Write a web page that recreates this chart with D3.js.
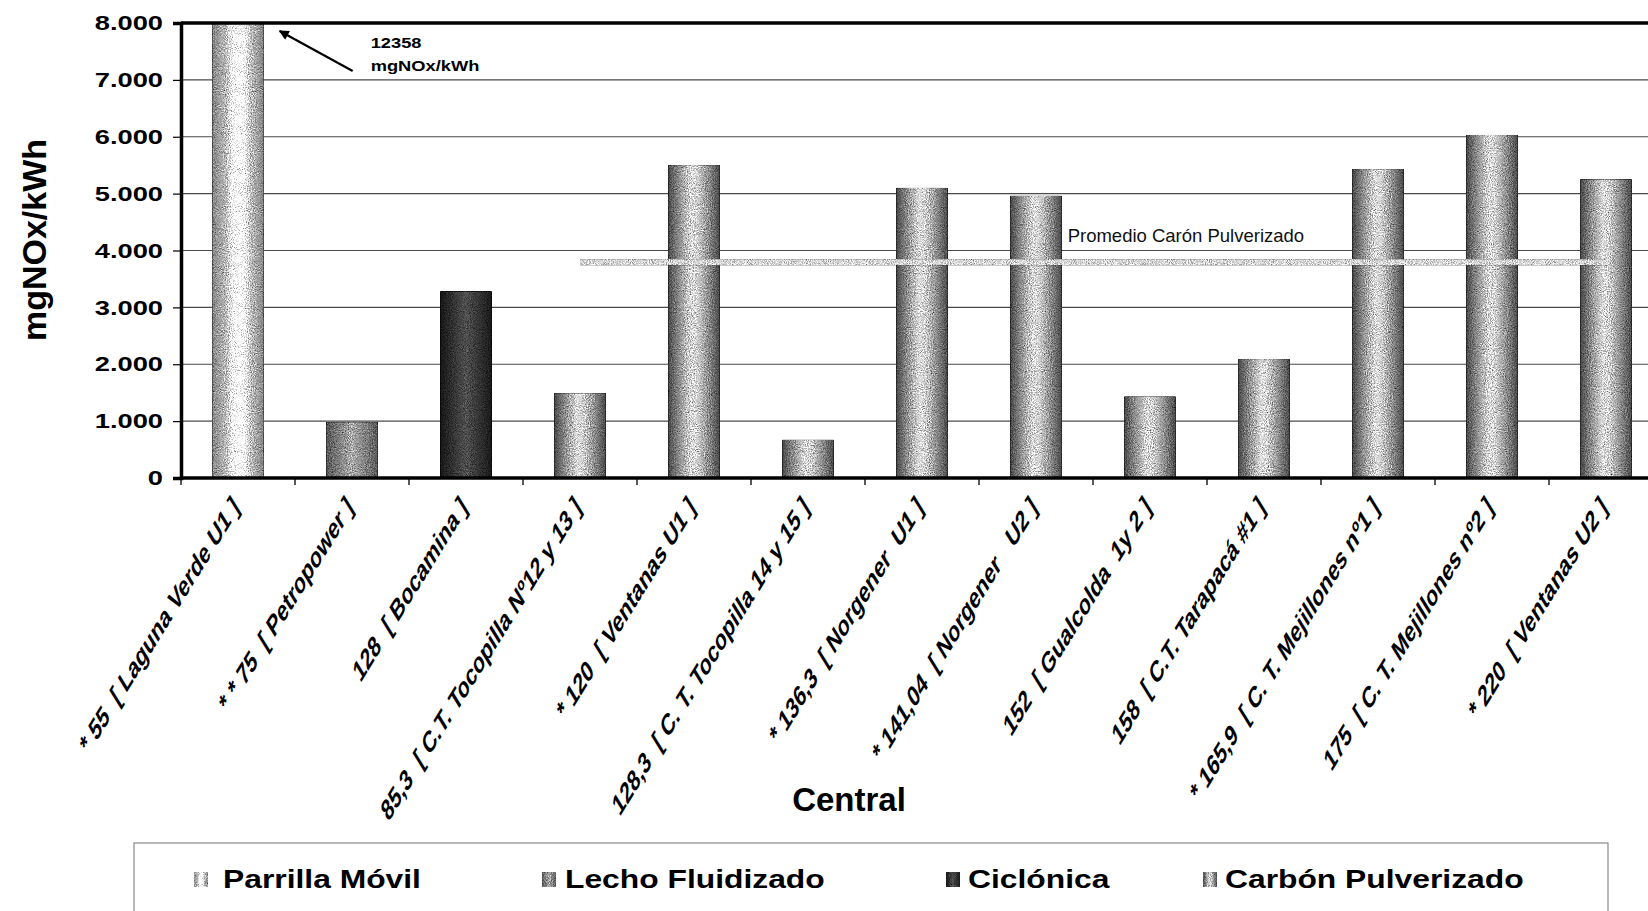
<!DOCTYPE html>
<html>
<head>
<meta charset="utf-8">
<script src="https://cdn.jsdelivr.net/npm/d3@7"></script>
<style>
  html, body { margin: 0; padding: 0; background: #fff; }
  svg { display: block; font-family: "Liberation Sans", Arial, sans-serif; }
  .xl { white-space: pre; }
</style>
</head>
<body>
<svg id="chart" width="1648" height="911"></svg>
<script>
// ---------------- data ----------------
const categories = [
  "* 55  [ Laguna Verde U1 ]",
  "* * 75  [ Petropower ]",
  "128  [ Bocamina ]",
  "85,3  [ C.T. Tocopilla Nº12 y 13 ]",
  "* 120  [ Ventanas U1 ]",
  "128,3  [ C. T. Tocopilla 14 y 15 ]",
  "* 136,3  [ Norgener  U1 ]",
  "* 141,04  [ Norgener   U2 ]",
  "152  [ Gualcolda  1y 2 ]",
  "158  [ C.T. Tarapacá #1 ]",
  "* 165,9  [ C. T. Mejillones nº1 ]",
  "175  [ C. T. Mejillones nº2 ]",
  "* 220  [ Ventanas U2 ]"
];
const valores = [12358, 980, 3280, 1490, 5500, 670, 5100, 4960, 1430, 2090, 5430, 6030, 5250];
const tecnologia = [
  "Parrilla Móvil", "Lecho Fluidizado", "Ciclónica",
  "Carbón Pulverizado", "Carbón Pulverizado", "Carbón Pulverizado", "Carbón Pulverizado",
  "Carbón Pulverizado", "Carbón Pulverizado", "Carbón Pulverizado", "Carbón Pulverizado",
  "Carbón Pulverizado", "Carbón Pulverizado"
];
const legendLabels = ["Parrilla Móvil", "Lecho Fluidizado", "Ciclónica", "Carbón Pulverizado"];
const yTicks = [0, 1000, 2000, 3000, 4000, 5000, 6000, 7000, 8000];
const yMax = 8000;
const annotationText = ["12358", "mgNOx/kWh"];
const promedioLabel = "Promedio Carón Pulverizado";
const yTitle = "mgNOx/kWh";
const xTitle = "Central";

// ---------------- layout ----------------
const svg = d3.select("#chart");
const W = 1648, H = 911;
const plotLeft = 181, plotTop = 23, plotBottom = 478;
const step = 114;
const plotRight = plotLeft + step * categories.length;

const defs = svg.append("defs");
// grain filter to imitate the scanned texture
function grainFilter(id) {
  const flt = defs.append("filter").attr("id", id)
    .attr("color-interpolation-filters", "sRGB")
    .attr("x", 0).attr("y", 0).attr("width", 1).attr("height", 1);
  flt.append("feTurbulence").attr("type", "fractalNoise").attr("baseFrequency", 0.95)
    .attr("numOctaves", 2).attr("seed", 7).attr("result", "n");
  flt.append("feColorMatrix").attr("in", "n").attr("type", "matrix")
    .attr("values", "0.5 0.5 0 0 0  0.5 0.5 0 0 0  0.5 0.5 0 0 0  0 0 0 0 1").attr("result", "g");
  flt.append("feComposite").attr("in", "SourceGraphic").attr("in2", "g")
    .attr("operator", "arithmetic").attr("k1", 2.2).attr("k2", 0).attr("k3", 0).attr("k4", -0.06);
}
grainFilter("grain");

const gradStops = {
  "Parrilla Móvil": [[0, "#858585"], [0.28, "#bababa"], [0.4, "#fbfbfb"], [0.62, "#fbfbfb"], [0.74, "#bebebe"], [1, "#858585"]],
  "Lecho Fluidizado": [[0, "#5a5a5a"], [0.5, "#a9a9a9"], [1, "#5e5e5e"]],
  "Ciclónica": [[0, "#222222"], [0.5, "#555555"], [1, "#242424"]],
  "Carbón Pulverizado": [[0, "#4e4e4e"], [0.45, "#d6d6d6"], [0.55, "#cfcfcf"], [1, "#505050"]]
};
const gradId = {};
legendLabels.forEach((t, i) => {
  const id = "grad" + i;
  gradId[t] = id;
  const g = defs.append("linearGradient").attr("id", id).attr("x1", 0).attr("x2", 1).attr("y1", 0).attr("y2", 0);
  gradStops[t].forEach(s => g.append("stop").attr("offset", s[0]).attr("stop-color", s[1]));
});

defs.append("clipPath").attr("id", "plotClip").append("rect")
  .attr("x", plotLeft).attr("y", plotTop).attr("width", plotRight - plotLeft).attr("height", plotBottom - plotTop);

defs.append("marker").attr("id", "arrowHead").attr("viewBox", "0 0 10 10")
  .attr("refX", 9).attr("refY", 5).attr("markerWidth", 14).attr("markerHeight", 10)
  .attr("markerUnits", "userSpaceOnUse").attr("orient", "auto")
  .append("path").attr("d", "M0,0 L10,5 L0,10 Z").attr("fill", "#000");

// ---------------- scales ----------------
const x = d3.scaleBand().domain(categories).range([plotLeft, plotRight]).paddingInner(0.55).paddingOuter(0.275);
const y = d3.scaleLinear().domain([0, yMax]).range([plotBottom, plotTop]);
const bw = x.bandwidth();
const esLocale = d3.formatLocale({ decimal: ",", thousands: ".", grouping: [3], currency: ["$", ""] });
const fmt = esLocale.format(",");

// ---------------- gridlines ----------------
svg.append("g").selectAll("line").data(yTicks.filter(v => v > 0 && v < yMax)).join("line")
  .attr("x1", plotLeft).attr("x2", W).attr("y1", d => y(d)).attr("y2", d => y(d))
  .attr("stroke", "#4a4a4a").attr("stroke-width", 1.2);

// ---------------- bars ----------------
const data = categories.map((c, i) => ({ c, v: valores[i], t: tecnologia[i] }));
svg.append("g").attr("clip-path", "url(#plotClip)")
  .selectAll("rect").data(data).join("rect")
  .attr("x", d => x(d.c)).attr("width", bw)
  .attr("y", d => y(Math.min(d.v, yMax))).attr("height", d => y(0) - y(Math.min(d.v, yMax)))
  .attr("fill", d => `url(#${gradId[d.t]})`)
  .attr("filter", "url(#grain)");

// ---------------- average line ----------------
const pulv = data.filter(d => d.t === "Carbón Pulverizado");
const promedio = d3.mean(pulv, d => d.v);
const yAvg = y(promedio);
const avgX1 = x(pulv[0].c) + bw / 2, avgX2 = x(pulv[pulv.length - 1].c) + bw / 2;
svg.append("rect")
  .attr("x", avgX1).attr("width", avgX2 - avgX1)
  .attr("y", yAvg - 3).attr("height", 6)
  .attr("fill", "#d2d2d2").attr("filter", "url(#grain)");
svg.append("text")
  .attr("x", x(categories[7]) + bw + 6).attr("y", yAvg - 20)
  .attr("font-size", 18.5).attr("fill", "#111")
  .text(promedioLabel);

// ---------------- axes frame ----------------
svg.append("line").attr("x1", plotLeft).attr("x2", W).attr("y1", plotTop).attr("y2", plotTop)
  .attr("stroke", "#000").attr("stroke-width", 3.5);
svg.append("line").attr("x1", plotLeft).attr("x2", W).attr("y1", plotBottom).attr("y2", plotBottom)
  .attr("stroke", "#000").attr("stroke-width", 3.5);

// y axis
const yAxis = svg.append("g").attr("transform", `translate(${plotLeft},0)`)
  .call(d3.axisLeft(y).tickValues(yTicks).tickSize(8).tickPadding(10).tickFormat(fmt));
yAxis.select(".domain").attr("stroke", "#000").attr("stroke-width", 3.5);
yAxis.selectAll(".tick line").attr("stroke", "#000").attr("stroke-width", 1.2);
yAxis.selectAll(".tick text")
  .attr("font-family", "'Liberation Sans', Arial, sans-serif")
  .attr("font-weight", "bold").attr("font-size", 21).attr("fill", "#000")
  .each(function () {
    const t = d3.select(this);
    const xx = +t.attr("x");
    t.attr("x", 0).attr("transform", `translate(${xx},0) scale(1.3,1)`);
  });

// x ticks at band boundaries
const boundaries = categories.map(c => x(c) - (x.step() - bw) / 2).concat([plotRight]);
svg.append("g").selectAll("line").data(boundaries).join("line")
  .attr("x1", d => d).attr("x2", d => d).attr("y1", plotBottom).attr("y2", plotBottom + 7)
  .attr("stroke", "#000").attr("stroke-width", 1.3);

// x labels (rotated 45deg then stretched vertically, as in the scanned original)
svg.append("g").selectAll("g").data(categories).join("g")
  .attr("transform", c => `translate(${x(c) + bw / 2 + 2},${plotBottom + 31}) scale(1,1.62) rotate(-45)`)
  .append("text").attr("class", "xl")
  .attr("text-anchor", "end")
  .attr("font-weight", "bold").attr("font-size", 18.5).attr("fill", "#000")
  .text(c => c);

// axis titles
svg.append("text")
  .attr("transform", `translate(46,240) rotate(-90)`)
  .attr("text-anchor", "middle").attr("font-weight", "bold").attr("font-size", 34)
  .text(yTitle);
svg.append("text")
  .attr("x", 849).attr("y", 811).attr("text-anchor", "middle")
  .attr("font-weight", "bold").attr("font-size", 33)
  .text(xTitle);

// ---------------- annotation ----------------
const tipX = x(categories[0]) + bw + 16, tipY = y(yMax) + 8;
svg.append("line")
  .attr("x1", tipX + 73).attr("y1", tipY + 40).attr("x2", tipX).attr("y2", tipY)
  .attr("stroke", "#000").attr("stroke-width", 2.2).attr("marker-end", "url(#arrowHead)");
annotationText.forEach((t, i) => {
  svg.append("text")
    .attr("x", 0).attr("y", 0)
    .attr("transform", `translate(${tipX + 91},${48 + i * 23}) scale(1.22,1)`)
    .attr("font-weight", "bold").attr("font-size", 15).text(t);
});

// ---------------- legend ----------------
svg.append("rect").attr("x", 134).attr("y", 843).attr("width", 1474).attr("height", 80)
  .attr("fill", "none").attr("stroke", "#8a8a8a").attr("stroke-width", 1.2);
const legendIconX = [194, 542, 946, 1203];
const legendTextX = [223, 565, 968, 1225];
const legendBase = 888;
const lg = svg.append("g").selectAll("g").data(legendLabels).join("g");
lg.append("rect")
  .attr("x", (d, i) => legendIconX[i]).attr("y", legendBase - 16).attr("width", 14).attr("height", 15)
  .attr("fill", d => `url(#${gradId[d]})`).attr("filter", "url(#grain)");
lg.append("text")
  .attr("transform", (d, i) => `translate(${legendTextX[i]},${legendBase}) scale(1.2,1)`)
  .attr("font-weight", "bold").attr("font-size", 26.5).text(d => d);
</script>
</body>
</html>
